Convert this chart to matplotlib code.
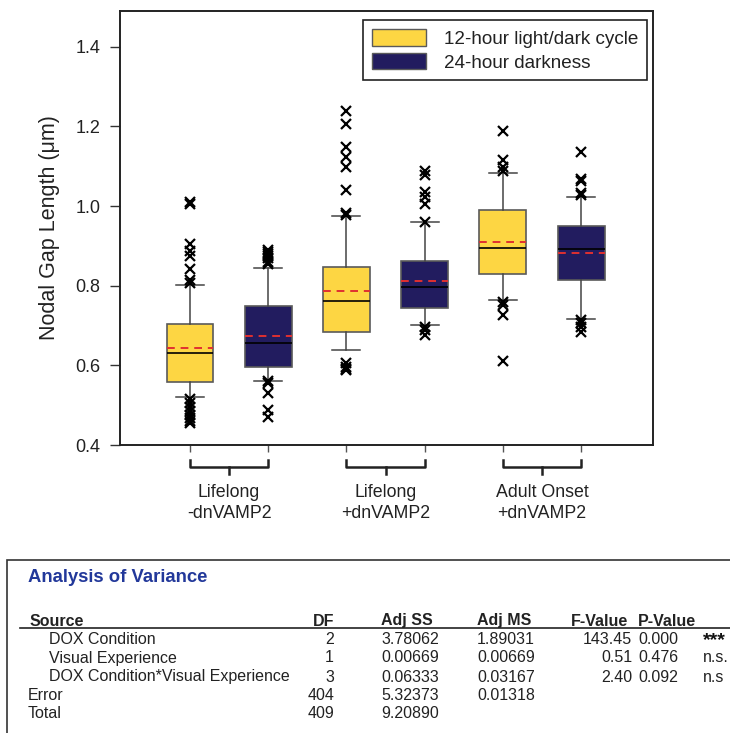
import matplotlib
matplotlib.use('Agg')
import matplotlib.pyplot as plt
from matplotlib.patches import Patch, Rectangle
from matplotlib.lines import Line2D

plt.rcParams['font.family'] = ['Liberation Sans', 'DejaVu Sans']

# ─── Data ────────────────────────────────────────────────────────────────────
groups = ['Lifelong\n-dnVAMP2', 'Lifelong\n+dnVAMP2', 'Adult Onset\n+dnVAMP2']
series = ['12-hour light/dark cycle', '24-hour darkness']

# box order: L-12h, L-24h, L+12h, L+24h, A+12h, A+24h
q1 = [0.557, 0.597, 0.684, 0.743, 0.829, 0.815]
med = [0.631, 0.656, 0.762, 0.796, 0.895, 0.892]
q3 = [0.703, 0.748, 0.846, 0.863, 0.989, 0.950]
means = [0.644, 0.675, 0.787, 0.813, 0.911, 0.881]
whislo = [0.521, 0.561, 0.638, 0.701, 0.764, 0.717]
whishi = [0.801, 0.845, 0.975, 0.960, 1.083, 1.023]
fliers = [
    [1.005, 1.010, 0.904, 0.886, 0.875, 0.842, 0.815, 0.806,
     0.515, 0.505, 0.495, 0.485, 0.475, 0.468, 0.460, 0.455],
    [0.890, 0.885, 0.880, 0.875, 0.870, 0.860, 0.855,
     0.561, 0.556, 0.531, 0.488, 0.471],
    [1.239, 1.206, 1.148, 1.124, 1.098, 1.041, 0.982, 0.978,
     0.605, 0.597, 0.592, 0.588],
    [1.087, 1.078, 1.036, 1.022, 1.005, 0.961,
     0.697, 0.689, 0.676],
    [1.189, 1.116, 1.099, 1.087, 0.760, 0.752, 0.727, 0.612],
    [1.137, 1.068, 1.062, 1.034, 1.028, 0.714, 0.706, 0.697, 0.685],
]

# ANOVA table
anova_header = ['Source', 'DF', 'Adj SS', 'Adj MS', 'F-Value', 'P-Value']
anova_source = ['DOX Condition', 'Visual Experience',
                'DOX Condition*Visual Experience', 'Error', 'Total']
anova_df = ['2', '1', '3', '404', '409']
anova_ss = ['3.78062', '0.00669', '0.06333', '5.32373', '9.20890']
anova_ms = ['1.89031', '0.00669', '0.03167', '0.01318', '']
anova_f = ['143.45', '0.51', '2.40', '', '']
anova_p = ['0.000', '0.476', '0.092', '', '']
anova_sig = ['***', 'n.s.', 'n.s', '', '']

# ─── Style ───────────────────────────────────────────────────────────────────
YELLOW = '#FDD643'
NAVY = '#221C5F'
EDGE = '#5a5a5a'
colors = [YELLOW, NAVY] * 3

W, H = 730, 733
fig = plt.figure(figsize=(W / 100, H / 100), dpi=100, facecolor='white')


def fx(px):
    return px / W


def fy(py):
    return 1 - py / H


ax = fig.add_axes([fx(120), fy(445), fx(653) - fx(120), fy(11) - fy(445)])

stats = []
for i in range(6):
    stats.append(dict(q1=q1[i], med=med[i], q3=q3[i], mean=means[i],
                      whislo=whislo[i], whishi=whishi[i], fliers=fliers[i]))

positions = [1, 2, 3, 4, 5, 6]
bp = ax.bxp(stats, positions=positions, widths=0.6, capwidths=0.36,
            patch_artist=True, showmeans=True, meanline=True,
            boxprops=dict(edgecolor=EDGE, linewidth=1.2),
            whiskerprops=dict(color='#444444', linewidth=1.1),
            capprops=dict(color='#444444', linewidth=1.1),
            medianprops=dict(color='black', linewidth=1.2),
            meanprops=dict(color='#E03030', linestyle=(0, (4, 3)), linewidth=1.4),
            flierprops=dict(marker='x', markeredgecolor='black',
                            markersize=7, markeredgewidth=1.6))
for box, c in zip(bp['boxes'], colors):
    box.set_facecolor(c)

ax.set_xlim(0.105, 6.92)
ax.set_ylim(0.4, 1.49)
ax.set_yticks([0.4, 0.6, 0.8, 1.0, 1.2, 1.4])
ax.set_yticklabels(['0.4', '0.6', '0.8', '1.0', '1.2', '1.4'])
ax.set_xticks(positions)
ax.set_xticklabels([])
ax.tick_params(axis='y', direction='out', length=7, width=1, labelsize=13,
               colors='#333333', labelcolor='#222222', pad=7)
ax.tick_params(axis='x', direction='out', length=5, width=1, colors='#555555')
for spine in ax.spines.values():
    spine.set_linewidth(1.4)
    spine.set_color('#222222')
ax.set_ylabel('Nodal Gap Length (\u03bcm)', fontsize=15.5, color='#222222', labelpad=11)

# group brackets and labels under the axis
trans = ax.get_xaxis_transform()
ah = 434.0
for g, name in enumerate(groups):
    x0, x1 = positions[2 * g], positions[2 * g + 1]
    xc = (x0 + x1) / 2
    ax.add_line(Line2D([x0, x0, x1, x1], [-15 / ah, -22 / ah, -22 / ah, -15 / ah],
                       transform=trans, color='#222222', lw=1.8, clip_on=False))
    ax.add_line(Line2D([xc, xc], [-22 / ah, -29 / ah], transform=trans,
                       color='#222222', lw=1.8, clip_on=False))
    ax.text(xc, -39 / ah, name, transform=trans, ha='center', va='top',
            fontsize=12.8, color='#222222', linespacing=1.3)

handles = [Patch(facecolor=YELLOW, edgecolor=EDGE, lw=1),
           Patch(facecolor=NAVY, edgecolor=EDGE, lw=1)]
leg = ax.legend(handles, series, loc='upper right', bbox_to_anchor=(1.007, 1.0),
                fontsize=13.6, frameon=True, fancybox=False, framealpha=1,
                edgecolor='#222222', handlelength=2.85, handleheight=1.0,
                handletextpad=1.0, borderpad=0.45, labelspacing=0.25)
leg.get_frame().set_linewidth(1.2)
for t in leg.get_texts():
    t.set_color('#222222')

# ─── ANOVA table (figure pixel coordinates) ─────────────────────────────────
fig.add_artist(Rectangle((fx(7), fy(745)), fx(760) - fx(7), fy(560) - fy(745),
                         transform=fig.transFigure, fill=False,
                         edgecolor='#333333', lw=1.2))
tfont = ['Liberation Sans Narrow', 'Liberation Sans', 'DejaVu Sans']
fig.text(fx(28), fy(578), 'Analysis of Variance', ha='left', va='center',
         fontsize=13.3, fontweight='bold', color='#22389A', family=tfont)

TXT = '#222222'
hy = 621
hkw = dict(va='center', fontsize=11.5, fontweight='bold', color=TXT, family=tfont)
fig.text(fx(30), fy(hy), anova_header[0], ha='left', **hkw)
fig.text(fx(334), fy(hy), anova_header[1], ha='right', **hkw)
fig.text(fx(381), fy(hy), anova_header[2], ha='left', **hkw)
fig.text(fx(477), fy(hy), anova_header[3], ha='left', **hkw)
fig.text(fx(571), fy(hy), anova_header[4], ha='left', **hkw)
fig.text(fx(638), fy(hy), anova_header[5], ha='left', **hkw)
fig.add_artist(Line2D([fx(20), fx(730)], [fy(628), fy(628)],
                      transform=fig.transFigure, color='#222222', lw=1.2))

row_y = [639, 658, 677, 696, 714]
for i, y in enumerate(row_y):
    indent = 49 if i < 3 else 28
    kw = dict(va='center', fontsize=11.5, color=TXT, family=tfont)
    fig.text(fx(indent), fy(y), anova_source[i], ha='left', **kw)
    fig.text(fx(334), fy(y), anova_df[i], ha='right', **kw)
    fig.text(fx(381), fy(y), anova_ss[i], ha='left', **kw)
    fig.text(fx(477), fy(y), anova_ms[i], ha='left', **kw)
    fig.text(fx(632), fy(y), anova_f[i], ha='right', **kw)
    fig.text(fx(638), fy(y), anova_p[i], ha='left', **kw)
    if anova_sig[i] == '***':
        fig.text(fx(703), fy(y + 2), anova_sig[i], ha='left', va='center',
                 fontsize=14, fontweight='bold', color='#111111', family=tfont)
    else:
        fig.text(fx(703), fy(y), anova_sig[i], ha='left', **kw)

fig.savefig('out.png', dpi=100, facecolor='white')
